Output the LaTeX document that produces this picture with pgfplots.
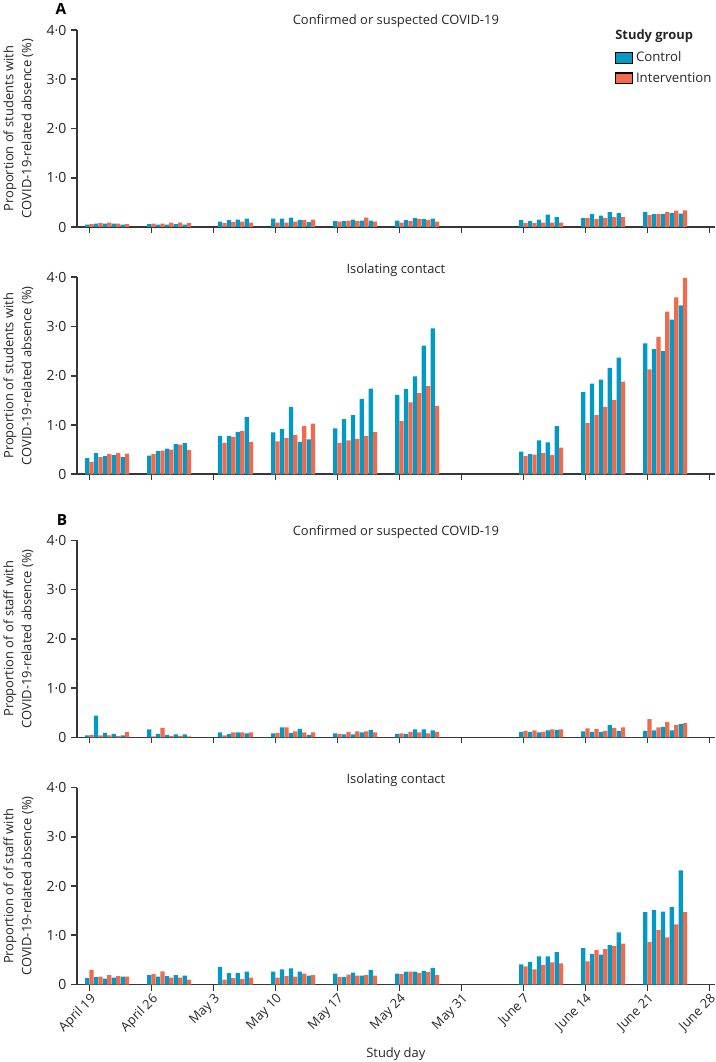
\documentclass[border=0pt]{standalone}
\usepackage{pgfplots}
\pgfplotsset{compat=1.18}
\usepackage{pgfplotstable}
\usepackage{fontspec}
\setmainfont{Open Sans}

\definecolor{ctrl}{RGB}{0,154,199}
\definecolor{intv}{RGB}{242,106,76}
\definecolor{axisgray}{RGB}{55,55,55}

% day = days since Monday April 19; c = control, i = intervention (%)
\pgfplotstableread{
day c i
0 0.05 0.06
1 0.07 0.08
2 0.07 0.09
3 0.07 0.07
4 0.05 0.06
7 0.06 0.07
8 0.05 0.07
9 0.05 0.09
10 0.06 0.09
11 0.05 0.08
15 0.11 0.08
16 0.14 0.10
17 0.15 0.11
18 0.17 0.09
21 0.17 0.09
22 0.17 0.09
23 0.19 0.11
24 0.14 0.14
25 0.10 0.15
28 0.12 0.11
29 0.12 0.13
30 0.15 0.12
31 0.13 0.19
32 0.13 0.11
35 0.13 0.09
36 0.14 0.12
37 0.18 0.16
38 0.16 0.14
39 0.17 0.11
49 0.14 0.08
50 0.12 0.08
51 0.15 0.09
52 0.25 0.09
53 0.20 0.09
56 0.18 0.18
57 0.26 0.16
58 0.23 0.18
59 0.30 0.20
60 0.28 0.20
63 0.30 0.24
64 0.26 0.26
65 0.26 0.30
66 0.28 0.33
67 0.27 0.34
}\stuconf

\pgfplotstableread{
day c i
0 0.33 0.25
1 0.43 0.35
2 0.37 0.41
3 0.39 0.43
4 0.35 0.42
7 0.38 0.41
8 0.47 0.48
9 0.52 0.50
10 0.61 0.60
11 0.63 0.49
15 0.78 0.64
16 0.78 0.76
17 0.86 0.88
18 1.16 0.66
21 0.85 0.67
22 0.92 0.74
23 1.37 0.80
24 0.66 0.98
25 0.71 1.03
28 0.93 0.63
29 1.12 0.69
30 1.20 0.72
31 1.53 0.78
32 1.74 0.86
35 1.61 1.08
36 1.73 1.46
37 1.99 1.65
38 2.61 1.79
39 2.96 1.39
49 0.46 0.37
50 0.41 0.40
51 0.69 0.43
52 0.65 0.39
53 0.98 0.54
56 1.67 1.04
57 1.84 1.20
58 1.92 1.37
59 2.16 1.51
60 2.37 1.88
63 2.66 2.13
64 2.54 2.79
65 2.50 3.30
66 3.14 3.59
67 3.43 3.99
}\stuiso

\pgfplotstableread{
day c i
0 0.04 0.05
1 0.44 0.04
2 0.09 0.04
3 0.07 0.03
4 0.04 0.11
7 0.16 0.02
8 0.07 0.19
9 0.05 0.03
10 0.06 0.03
11 0.06 0.02
15 0.10 0.04
16 0.07 0.10
17 0.10 0.10
18 0.08 0.10
21 0.08 0.09
22 0.20 0.20
23 0.09 0.12
24 0.17 0.10
25 0.05 0.10
28 0.08 0.07
29 0.06 0.11
30 0.06 0.12
31 0.10 0.12
32 0.15 0.10
35 0.07 0.08
36 0.07 0.11
37 0.16 0.10
38 0.16 0.08
39 0.14 0.11
49 0.11 0.13
50 0.11 0.14
51 0.10 0.11
52 0.14 0.16
53 0.15 0.16
56 0.12 0.18
57 0.11 0.17
58 0.11 0.13
59 0.25 0.19
60 0.13 0.20
63 0.13 0.37
64 0.14 0.20
65 0.21 0.31
66 0.14 0.25
67 0.27 0.29
}\staffconf

\pgfplotstableread{
day c i
0 0.13 0.30
1 0.15 0.16
2 0.12 0.19
3 0.14 0.17
4 0.16 0.16
7 0.19 0.21
8 0.16 0.27
9 0.17 0.14
10 0.19 0.14
11 0.18 0.10
15 0.36 0.10
16 0.23 0.13
17 0.23 0.11
18 0.26 0.14
21 0.26 0.14
22 0.31 0.17
23 0.33 0.16
24 0.26 0.22
25 0.18 0.19
28 0.22 0.15
29 0.15 0.20
30 0.24 0.18
31 0.18 0.19
32 0.30 0.18
35 0.22 0.21
36 0.26 0.26
37 0.26 0.23
38 0.28 0.25
39 0.34 0.19
49 0.41 0.37
50 0.46 0.31
51 0.57 0.40
52 0.57 0.45
53 0.66 0.43
56 0.74 0.47
57 0.62 0.70
58 0.61 0.72
59 0.80 0.78
60 1.06 0.83
63 1.47 0.86
64 1.51 1.11
65 1.48 0.96
66 1.57 1.22
67 2.32 1.47
}\staffiso

\pgfplotsset{
  panel/.style={
    scale only axis,
    width=478.3pt, height=147.75pt,
    xmin=-1.4, xmax=70.6, ymin=0, ymax=4,
    axis lines=left,
    axis line style={-, line width=1.2pt, axisgray},
    tick style={line width=1.2pt, axisgray},
    tick align=outside,
    major tick length=4.5pt,
    xtick={0,7,...,70}, xticklabels={},
    ytick={0,1,2,3,4}, yticklabels={0,1·0,2·0,3·0,4·0},
    ybar, bar width=0.48,
    font=\fontsize{9.7}{12}\selectfont,
    yticklabel style={font=\fontsize{10.5}{12}\selectfont, text=black!85},
    xticklabel style={font=\fontsize{9.7}{11}\selectfont, text=black!85},
    ylabel style={at={(axis description cs:-0.092,0.5)}, anchor=center,
      align=center, font=\fontsize{9.7}{13.5}\selectfont, text=black!85},
    title style={at={(axis description cs:0.5,1)}, anchor=center, yshift=-0.5pt,
      font=\fontsize{9.7}{11}\selectfont, text=black!85},
  },
  cbar/.style={fill=ctrl, draw=none, bar shift=-0.245},
  ibar/.style={fill=intv, draw=none, bar shift=0.245},
}

\begin{document}
\begin{tikzpicture}
\path[use as bounding box] (0,0) rectangle (537pt,-796.5pt);

\node[font=\fontsize{11.5}{12}\selectfont\bfseries] at (45.75pt,-6.4pt) {A};
\node[font=\fontsize{11.5}{12}\selectfont\bfseries] at (46.5pt,-390pt) {B};
\node[anchor=west, font=\fontsize{9.7}{11}\selectfont\bfseries, text=black!85, inner sep=0pt] at (461.25pt,-27pt) {Study group};

\begin{axis}[panel, at={(57.75pt,-170.25pt)}, anchor=south west,
  title={Confirmed or suspected COVID-19},
  title style={yshift=0.8pt},
  ylabel={Proportion of students with\\COVID-19-related absence (\%)},
  legend style={at={(axis description cs:0.8437,0.9036)}, anchor=north west,
    draw=none, fill=none, inner sep=0pt, row sep=2.5pt,
    font=\fontsize{9.9}{11}\selectfont, text=black!85},
  legend cell align=left,
  legend image code/.code={\draw[#1, draw=black, line width=0.8pt] (0pt,-4.1pt) rectangle (12.75pt,4.1pt);},
]
\addplot[cbar] table[x=day, y=c] {\stuconf};
\addplot[ibar] table[x=day, y=i] {\stuconf};
\legend{Control, Intervention}
\end{axis}

\begin{axis}[panel, at={(57.75pt,-355.7pt)}, anchor=south west,
  title={Isolating contact},
  ylabel={Proportion of students with\\COVID-19-related absence (\%)},
]
\addplot[cbar] table[x=day, y=c] {\stuiso};
\addplot[ibar] table[x=day, y=i] {\stuiso};
\end{axis}

\begin{axis}[panel, at={(57.75pt,-553pt)}, anchor=south west,
  title={Confirmed or suspected COVID-19},
  title style={yshift=0.8pt},
  ylabel={Proportion of of staff with\\COVID-19-related absence (\%)},
]
\addplot[cbar] table[x=day, y=c] {\staffconf};
\addplot[ibar] table[x=day, y=i] {\staffconf};
\end{axis}

\begin{axis}[panel, at={(57.75pt,-738.4pt)}, anchor=south west,
  title={Isolating contact},
  ylabel={Proportion of of staff with\\COVID-19-related absence (\%)},
  xticklabels={April 19,April 26,May 3,May 10,May 17,May 24,May 31,June 7,June 14,June 21,June 28},
  xticklabel style={rotate=45, anchor=north east, inner sep=1pt},
  xlabel={Study day},
  xlabel style={at={(axis description cs:0.5,-0.355)}, anchor=center, text=black!85},
]
\addplot[cbar] table[x=day, y=c] {\staffiso};
\addplot[ibar] table[x=day, y=i] {\staffiso};
\end{axis}
\end{tikzpicture}
\end{document}
